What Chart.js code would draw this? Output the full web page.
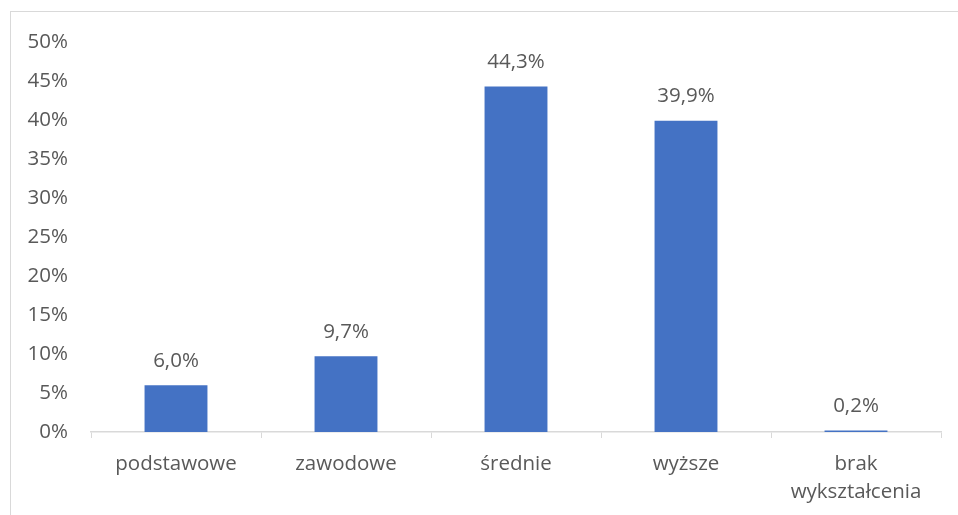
<!DOCTYPE html>
<html>
<head>
<meta charset="utf-8">
<script src="https://cdn.jsdelivr.net/npm/chart.js"></script>
<style>
  html, body { margin: 0; padding: 0; background: #ffffff; }
  .wrap { position: relative; width: 958px; height: 515px; }
  .frame {
    position: absolute; left: 10px; top: 11px; right: -5px; bottom: -5px;
    border-left: 1px solid #d9d9d9; border-top: 1px solid #d9d9d9;
  }
  canvas { position: absolute; left: 0; top: 0; }
</style>
</head>
<body>
<div class="wrap">
  <div class="frame"></div>
  <canvas id="chart" width="958" height="515"></canvas>
</div>
<script>
// dane z wykresu
const categories = ['podstawowe', 'zawodowe', 'średnie', 'wyższe', ['brak', 'wykształcenia']];
const values = [6.0, 9.7, 44.3, 39.9, 0.2];
const yTicks = [0, 5, 10, 15, 20, 25, 30, 35, 40, 45, 50];

const textColor = '#595959';
const fontFamily = '"Open Sans", sans-serif';

// etykiety wartości nad słupkami
const valueLabels = {
  id: 'valueLabels',
  afterDatasetsDraw(chart) {
    const ctx = chart.ctx;
    const meta = chart.getDatasetMeta(0);
    ctx.save();
    ctx.font = '20.5px ' + fontFamily;
    ctx.fillStyle = textColor;
    ctx.textAlign = 'center';
    ctx.textBaseline = 'bottom';
    meta.data.forEach((bar, i) => {
      const txt = values[i].toFixed(1).replace('.', ',') + '%';
      ctx.fillText(txt, bar.x, bar.y - 14);
    });
    ctx.restore();
  }
};

new Chart(document.getElementById('chart'), {
  type: 'bar',
  data: {
    labels: categories,
    datasets: [{
      data: values,
      backgroundColor: '#4472c4',
      barPercentage: 0.37,
      categoryPercentage: 1
    }]
  },
  options: {
    responsive: false,
    animation: false,
    layout: { padding: { top: 42, right: 17, left: 0, bottom: 0 } },
    plugins: { legend: { display: false }, tooltip: { enabled: false } },
    scales: {
      x: {
        grid: {
          display: true, offset: true, drawOnChartArea: false,
          drawTicks: true, tickLength: 6, color: '#d9d9d9'
        },
        border: { display: true, color: '#d9d9d9', width: 1.5 },
        ticks: {
          color: textColor, padding: 13,
          font: { family: fontFamily, size: 20.5, lineHeight: 1.33 }
        },
        afterFit(scale) { scale.height = 83; }
      },
      y: {
        min: 0, max: 50,
        grid: { display: false, drawTicks: false },
        border: { display: false },
        afterBuildTicks(scale) { scale.ticks = yTicks.map(v => ({ value: v })); },
        ticks: {
          color: textColor, padding: 23,
          font: { family: fontFamily, size: 20.5 },
          callback: v => v + '%'
        },
        afterFit(scale) { scale.width = 91; }
      }
    }
  },
  plugins: [valueLabels]
});
</script>
</body>
</html>
